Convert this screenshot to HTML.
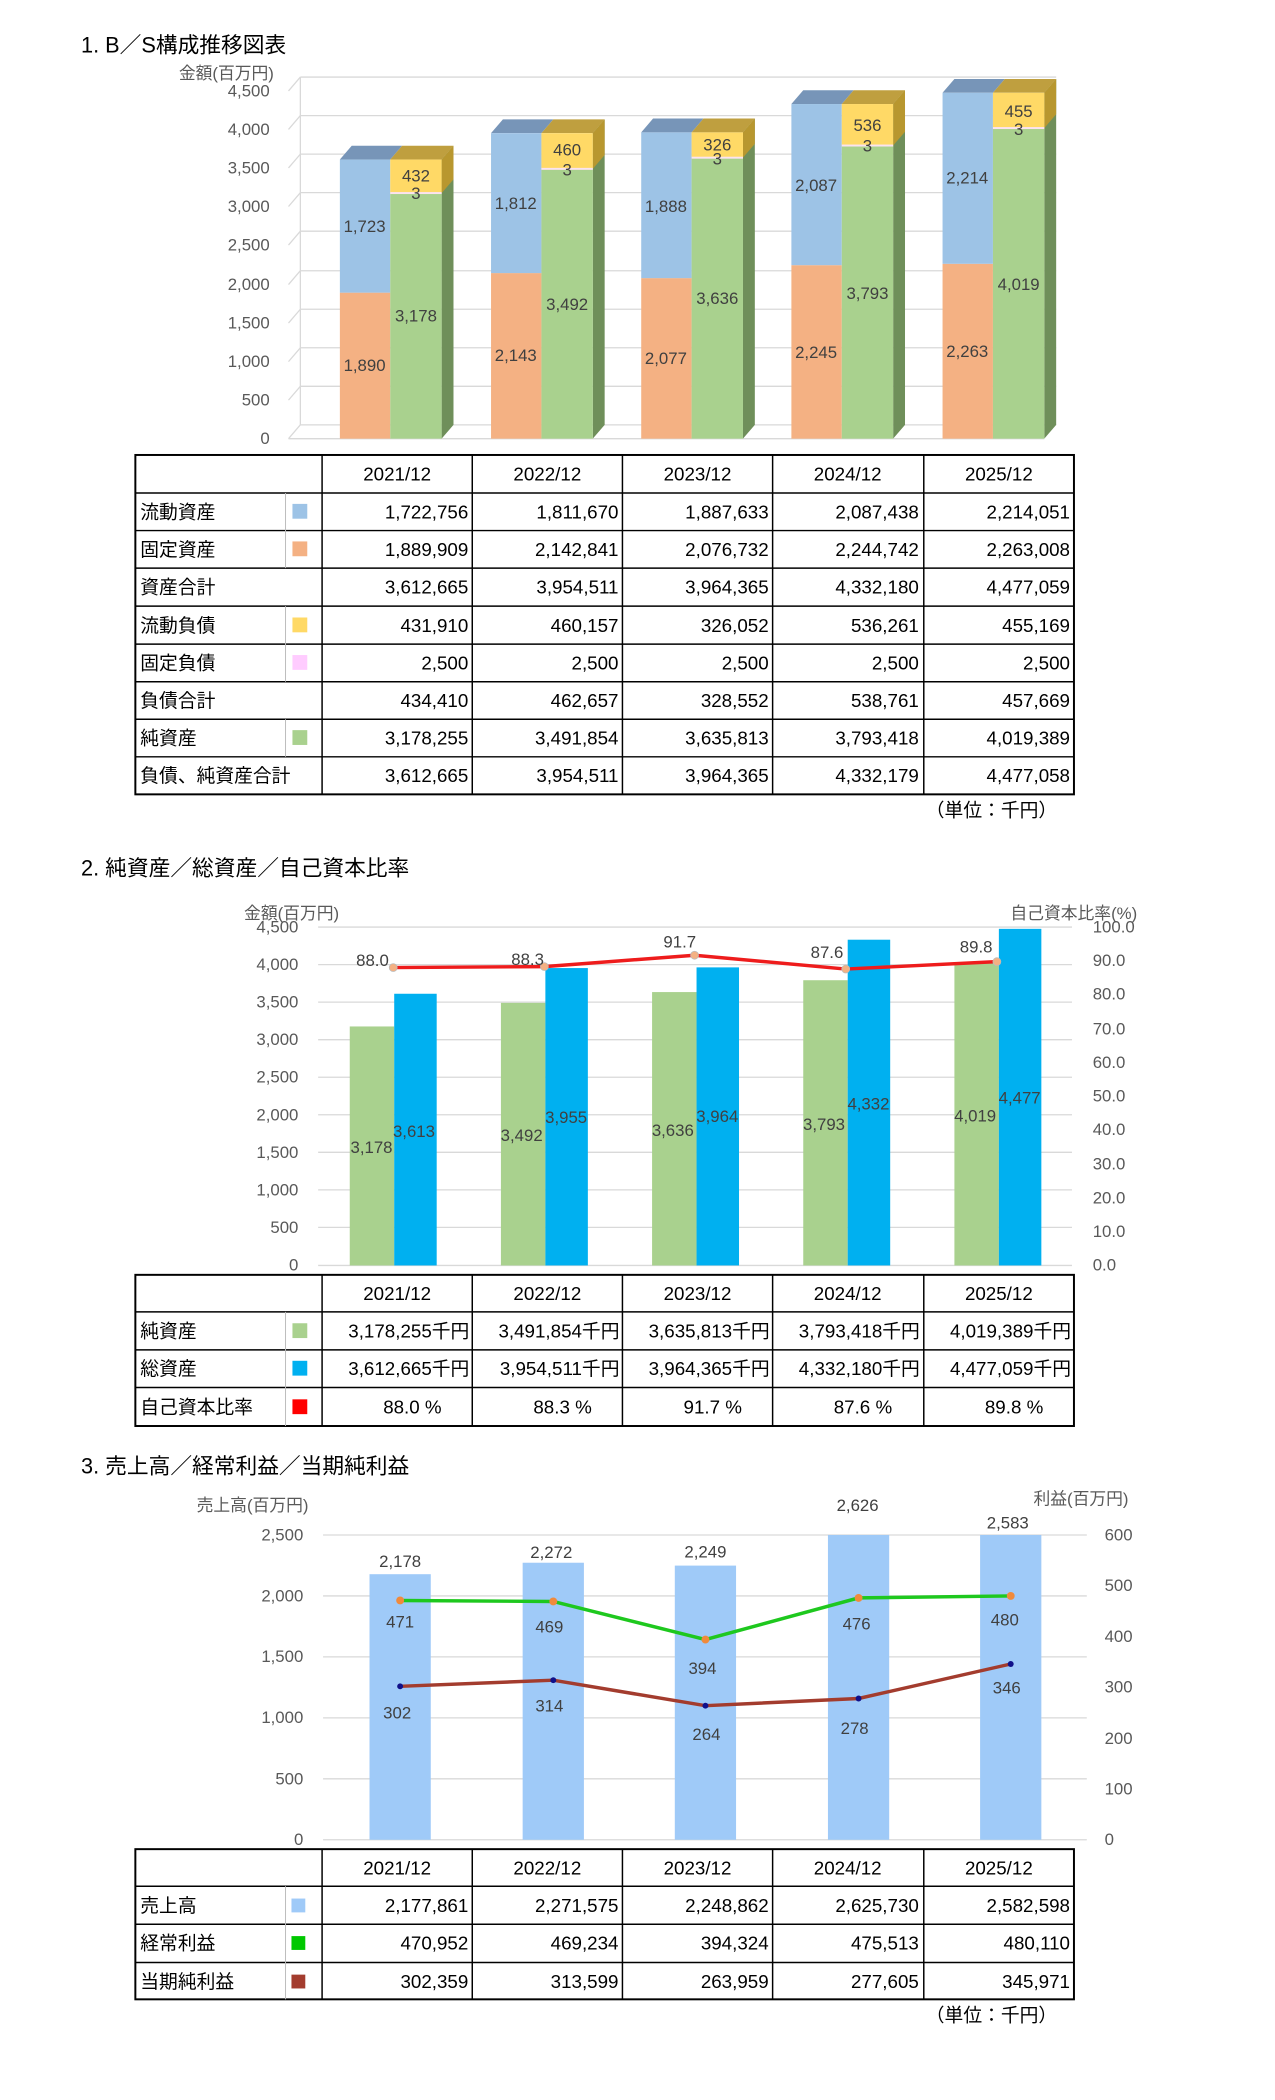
<!DOCTYPE html>
<html><head><meta charset="utf-8"><style>
html,body{margin:0;padding:0;background:#fff}
svg{display:block}
text{font-family:"Liberation Sans","Noto Sans CJK JP",sans-serif}
.ax{font-size:17px;fill:#595959}
.lb{font-size:17px;fill:#404040}
.tt{font-size:22px;fill:#000}
.tb{font-size:19px;fill:#000}
.gr{stroke:#d9d9d9;stroke-width:1.3}
</style></head><body>
<svg width="1275" height="2100" viewBox="0 0 1275 2100" xmlns="http://www.w3.org/2000/svg">
<!-- ===== Chart 1 ===== -->
<g transform="scale(0.988)">
<text class="tt" x="82" y="53">1. B／S構成推移図表</text>
<text class="ax" x="181" y="80">金額(百万円)</text>
<g class="gr">
<line x1="304" y1="78" x2="1069" y2="78"/><line x1="304" y1="117" x2="1069" y2="117"/><line x1="304" y1="156" x2="1069" y2="156"/><line x1="304" y1="195" x2="1069" y2="195"/><line x1="304" y1="234" x2="1069" y2="234"/><line x1="304" y1="274" x2="1069" y2="274"/><line x1="304" y1="313" x2="1069" y2="313"/><line x1="304" y1="352" x2="1069" y2="352"/><line x1="304" y1="391" x2="1069" y2="391"/><line x1="304" y1="430" x2="1069" y2="430"/>
<line x1="292" y1="92" x2="304" y2="78"/><line x1="292" y1="131" x2="304" y2="117"/><line x1="292" y1="170" x2="304" y2="156"/><line x1="292" y1="209" x2="304" y2="195"/><line x1="292" y1="248" x2="304" y2="234"/><line x1="292" y1="288" x2="304" y2="274"/><line x1="292" y1="327" x2="304" y2="313"/><line x1="292" y1="366" x2="304" y2="352"/><line x1="292" y1="405" x2="304" y2="391"/><line x1="292" y1="444" x2="304" y2="430"/>
<line x1="304" y1="78" x2="304" y2="430"/><line x1="292" y1="444" x2="1057" y2="444"/>
</g>
<g class="ax" text-anchor="end" dominant-baseline="central">
<text x="273" y="92">4,500</text><text x="273" y="131">4,000</text><text x="273" y="170">3,500</text><text x="273" y="209">3,000</text><text x="273" y="248">2,500</text><text x="273" y="288">2,000</text><text x="273" y="327">1,500</text><text x="273" y="366">1,000</text><text x="273" y="405">500</text><text x="273" y="444">0</text>
</g>
<g>
<polygon points="447,161.5 459,147.5 459,430 447,444" fill="#6f8f5a"/>
<polygon points="447,161.5 459,147.5 459,181.5 447,195.5" fill="#b8972f"/>
<polygon points="344,161.5 356,147.5 407,147.5 395,161.5" fill="#7795b8"/>
<polygon points="395,161.5 407,147.5 459,147.5 447,161.5" fill="#bf9f3f"/>
<rect x="344" y="296.2" width="51" height="147.8" fill="#f4b183"/>
<rect x="344" y="161.5" width="51" height="134.7" fill="#9dc3e6"/>
<rect x="395" y="195.4" width="52" height="248.6" fill="#a9d18e"/>
<rect x="395" y="161.5" width="52" height="33.9" fill="#ffd966"/>
<rect x="395" y="194.4" width="52" height="2" fill="#fbe3f0"/>
<polygon points="600,134.8 612,120.8 612,430 600,444" fill="#6f8f5a"/>
<polygon points="600,134.8 612,120.8 612,156.9 600,170.9" fill="#b8972f"/>
<polygon points="497,134.8 509,120.8 560,120.8 548,134.8" fill="#7795b8"/>
<polygon points="548,134.8 560,120.8 612,120.8 600,134.8" fill="#bf9f3f"/>
<rect x="497" y="276.4" width="51" height="167.6" fill="#f4b183"/>
<rect x="497" y="134.8" width="51" height="141.6" fill="#9dc3e6"/>
<rect x="548" y="170.9" width="52" height="273.1" fill="#a9d18e"/>
<rect x="548" y="134.8" width="52" height="36.1" fill="#ffd966"/>
<rect x="548" y="169.9" width="52" height="2" fill="#fbe3f0"/>
<polygon points="752,134 764,120 764,430 752,444" fill="#6f8f5a"/>
<polygon points="752,134 764,120 764,145.6 752,159.6" fill="#b8972f"/>
<polygon points="649,134 661,120 712,120 700,134" fill="#7795b8"/>
<polygon points="700,134 712,120 764,120 752,134" fill="#bf9f3f"/>
<rect x="649" y="281.5" width="51" height="162.5" fill="#f4b183"/>
<rect x="649" y="134" width="51" height="147.5" fill="#9dc3e6"/>
<rect x="700" y="159.6" width="52" height="284.4" fill="#a9d18e"/>
<rect x="700" y="134" width="52" height="25.6" fill="#ffd966"/>
<rect x="700" y="158.6" width="52" height="2" fill="#fbe3f0"/>
<polygon points="904,105.3 916,91.3 916,430 904,444" fill="#6f8f5a"/>
<polygon points="904,105.3 916,91.3 916,133.3 904,147.3" fill="#b8972f"/>
<polygon points="801,105.3 813,91.3 864,91.3 852,105.3" fill="#7795b8"/>
<polygon points="852,105.3 864,91.3 916,91.3 904,105.3" fill="#bf9f3f"/>
<rect x="801" y="268.4" width="51" height="175.6" fill="#f4b183"/>
<rect x="801" y="105.3" width="51" height="163.1" fill="#9dc3e6"/>
<rect x="852" y="147.3" width="52" height="296.7" fill="#a9d18e"/>
<rect x="852" y="105.3" width="52" height="42" fill="#ffd966"/>
<rect x="852" y="146.3" width="52" height="2" fill="#fbe3f0"/>
<polygon points="1057,93.9 1069,79.9 1069,430 1057,444" fill="#6f8f5a"/>
<polygon points="1057,93.9 1069,79.9 1069,115.6 1057,129.6" fill="#b8972f"/>
<polygon points="954,93.9 966,79.9 1017,79.9 1005,93.9" fill="#7795b8"/>
<polygon points="1005,93.9 1017,79.9 1069,79.9 1057,93.9" fill="#bf9f3f"/>
<rect x="954" y="267" width="51" height="177" fill="#f4b183"/>
<rect x="954" y="93.9" width="51" height="173.1" fill="#9dc3e6"/>
<rect x="1005" y="129.6" width="52" height="314.4" fill="#a9d18e"/>
<rect x="1005" y="93.9" width="52" height="35.7" fill="#ffd966"/>
<rect x="1005" y="128.6" width="52" height="2" fill="#fbe3f0"/>
</g>
<g class="lb" text-anchor="middle" dominant-baseline="central">
<text x="369" y="370">1,890</text><text x="369" y="229">1,723</text><text x="421" y="320">3,178</text><text x="421" y="178">432</text><text x="421" y="196">3</text>
<text x="522" y="360">2,143</text><text x="522" y="206">1,812</text><text x="574" y="308">3,492</text><text x="574" y="152">460</text><text x="574" y="172">3</text>
<text x="674" y="363">2,077</text><text x="674" y="209">1,888</text><text x="726" y="302">3,636</text><text x="726" y="147">326</text><text x="726" y="161">3</text>
<text x="826" y="357">2,245</text><text x="826" y="188">2,087</text><text x="878" y="297">3,793</text><text x="878" y="127">536</text><text x="878" y="148">3</text>
<text x="979" y="356">2,263</text><text x="979" y="180">2,214</text><text x="1031" y="288">4,019</text><text x="1031" y="113">455</text><text x="1031" y="131">3</text>
</g>
<g stroke="#000" stroke-width="1.5" fill="none">
<rect x="137" y="460.5" width="950" height="343.5" stroke-width="2"/>
<line x1="137" y1="499" x2="1087" y2="499"/><line x1="137" y1="537" x2="1087" y2="537"/><line x1="137" y1="575" x2="1087" y2="575"/><line x1="137" y1="613.5" x2="1087" y2="613.5"/><line x1="137" y1="652" x2="1087" y2="652"/><line x1="137" y1="690" x2="1087" y2="690"/><line x1="137" y1="728" x2="1087" y2="728"/><line x1="137" y1="766" x2="1087" y2="766"/>
<line x1="326" y1="460.5" x2="326" y2="804"/><line x1="478" y1="460.5" x2="478" y2="804"/><line x1="630" y1="460.5" x2="630" y2="804"/><line x1="782" y1="460.5" x2="782" y2="804"/><line x1="935" y1="460.5" x2="935" y2="804"/>
</g>
<g stroke="#bbb" stroke-width="1"><line x1="289" y1="499" x2="289" y2="575"/><line x1="289" y1="613.5" x2="289" y2="690"/><line x1="289" y1="728" x2="289" y2="766"/></g>
<rect x="296" y="510" width="15" height="15" fill="#9dc3e6"/><rect x="296" y="548" width="15" height="15" fill="#f4b183"/><rect x="296" y="625" width="15" height="15" fill="#ffd966"/><rect x="296" y="663" width="15" height="15" fill="#ffccff"/><rect x="296" y="739" width="15" height="15" fill="#a9d18e"/>
<g class="tb" dominant-baseline="central">
<g text-anchor="middle"><text x="402" y="480">2021/12</text><text x="554" y="480">2022/12</text><text x="706" y="480">2023/12</text><text x="858" y="480">2024/12</text><text x="1011" y="480">2025/12</text></g>
<text x="142" y="518">流動資産</text><text x="142" y="556">固定資産</text><text x="142" y="594">資産合計</text><text x="142" y="633">流動負債</text><text x="142" y="671">固定負債</text><text x="142" y="709">負債合計</text><text x="142" y="747">純資産</text><text x="142" y="785">負債、純資産合計</text>
<g text-anchor="end">
<text x="474" y="518">1,722,756</text><text x="626" y="518">1,811,670</text><text x="778" y="518">1,887,633</text><text x="930" y="518">2,087,438</text><text x="1083" y="518">2,214,051</text>
<text x="474" y="556">1,889,909</text><text x="626" y="556">2,142,841</text><text x="778" y="556">2,076,732</text><text x="930" y="556">2,244,742</text><text x="1083" y="556">2,263,008</text>
<text x="474" y="594">3,612,665</text><text x="626" y="594">3,954,511</text><text x="778" y="594">3,964,365</text><text x="930" y="594">4,332,180</text><text x="1083" y="594">4,477,059</text>
<text x="474" y="633">431,910</text><text x="626" y="633">460,157</text><text x="778" y="633">326,052</text><text x="930" y="633">536,261</text><text x="1083" y="633">455,169</text>
<text x="474" y="671">2,500</text><text x="626" y="671">2,500</text><text x="778" y="671">2,500</text><text x="930" y="671">2,500</text><text x="1083" y="671">2,500</text>
<text x="474" y="709">434,410</text><text x="626" y="709">462,657</text><text x="778" y="709">328,552</text><text x="930" y="709">538,761</text><text x="1083" y="709">457,669</text>
<text x="474" y="747">3,178,255</text><text x="626" y="747">3,491,854</text><text x="778" y="747">3,635,813</text><text x="930" y="747">3,793,418</text><text x="1083" y="747">4,019,389</text>
<text x="474" y="785">3,612,665</text><text x="626" y="785">3,954,511</text><text x="778" y="785">3,964,365</text><text x="930" y="785">4,332,179</text><text x="1083" y="785">4,477,058</text>
<text x="1070" y="820">（単位：千円）</text>
</g></g>
</g>

<!-- ===== Chart 2 ===== -->
<g transform="translate(0,10.2) scale(0.988)">
<text class="tt" x="82" y="876">2. 純資産／総資産／自己資本比率</text>
<text class="ax" x="247" y="920">金額(百万円)</text>
<text class="ax" x="1151" y="920" text-anchor="end">自己資本比率(%)</text>
<g class="gr">
<line x1="322" y1="928" x2="1085" y2="928"/><line x1="322" y1="966" x2="1085" y2="966"/><line x1="322" y1="1004" x2="1085" y2="1004"/><line x1="322" y1="1042" x2="1085" y2="1042"/><line x1="322" y1="1080" x2="1085" y2="1080"/><line x1="322" y1="1118" x2="1085" y2="1118"/><line x1="322" y1="1156" x2="1085" y2="1156"/><line x1="322" y1="1194" x2="1085" y2="1194"/><line x1="322" y1="1232" x2="1085" y2="1232"/><line x1="322" y1="1270.5" x2="1085" y2="1270.5"/>
</g>
<g class="ax" text-anchor="end" dominant-baseline="central">
<text x="302" y="928">4,500</text><text x="302" y="966">4,000</text><text x="302" y="1004">3,500</text><text x="302" y="1042">3,000</text><text x="302" y="1080">2,500</text><text x="302" y="1118">2,000</text><text x="302" y="1156">1,500</text><text x="302" y="1194">1,000</text><text x="302" y="1232">500</text><text x="302" y="1270">0</text>
</g>
<g class="ax" dominant-baseline="central">
<text x="1106" y="928">100.0</text><text x="1106" y="962">90.0</text><text x="1106" y="996">80.0</text><text x="1106" y="1031">70.0</text><text x="1106" y="1065">60.0</text><text x="1106" y="1099">50.0</text><text x="1106" y="1133">40.0</text><text x="1106" y="1168">30.0</text><text x="1106" y="1202">20.0</text><text x="1106" y="1236">10.0</text><text x="1106" y="1270">0.0</text>
</g>
<g fill="#a9d18e">
<rect x="354" y="1028.6" width="45" height="241.9"/><rect x="507" y="1004.7" width="45" height="265.8"/><rect x="660" y="993.8" width="45" height="276.7"/><rect x="813" y="981.8" width="45" height="288.7"/><rect x="966" y="964.6" width="45" height="305.9"/>
</g>
<g fill="#00b0f0">
<rect x="399" y="995.5" width="43" height="275"/><rect x="552" y="969.5" width="43" height="301"/><rect x="705" y="968.8" width="43" height="301.7"/><rect x="858" y="940.8" width="43" height="329.7"/><rect x="1011" y="929.8" width="43" height="340.7"/>
</g>
<polyline points="398,969 551,968 703,956.5 856,970.5 1009,963" fill="none" stroke="#ee1c1c" stroke-width="3.5"/>
<g fill="#f4b183" stroke="#bbb" stroke-width="0.8"><circle cx="398" cy="969" r="4"/><circle cx="551" cy="968" r="4"/><circle cx="703" cy="956.5" r="4"/><circle cx="856" cy="970.5" r="4"/><circle cx="1009" cy="963" r="4"/></g>
<g class="lb" text-anchor="middle" dominant-baseline="central">
<text x="377" y="962">88.0</text><text x="534" y="961">88.3</text><text x="688" y="943">91.7</text><text x="837" y="954">87.6</text><text x="988" y="948">89.8</text>
<text x="376" y="1151">3,178</text><text x="419" y="1135">3,613</text>
<text x="528" y="1139">3,492</text><text x="573" y="1121">3,955</text>
<text x="681" y="1134">3,636</text><text x="726" y="1120">3,964</text>
<text x="834" y="1128">3,793</text><text x="879" y="1107">4,332</text>
<text x="987" y="1119">4,019</text><text x="1032" y="1101">4,477</text>
</g>
<g stroke="#000" stroke-width="1.5" fill="none">
<rect x="137" y="1280" width="950" height="153" stroke-width="2"/>
<line x1="137" y1="1317.5" x2="1087" y2="1317.5"/><line x1="137" y1="1356" x2="1087" y2="1356"/><line x1="137" y1="1394" x2="1087" y2="1394"/>
<line x1="326" y1="1280" x2="326" y2="1433"/><line x1="478" y1="1280" x2="478" y2="1433"/><line x1="630" y1="1280" x2="630" y2="1433"/><line x1="782" y1="1280" x2="782" y2="1433"/><line x1="935" y1="1280" x2="935" y2="1433"/>
</g>
<line x1="289" y1="1317.5" x2="289" y2="1433" stroke="#bbb"/>
<rect x="296" y="1329" width="15" height="15" fill="#a9d18e"/><rect x="296" y="1367" width="15" height="15" fill="#00b0f0"/><rect x="296" y="1406" width="15" height="15" fill="#ff0000"/>
<g class="tb" dominant-baseline="central">
<g text-anchor="middle"><text x="402" y="1299">2021/12</text><text x="554" y="1299">2022/12</text><text x="706" y="1299">2023/12</text><text x="858" y="1299">2024/12</text><text x="1011" y="1299">2025/12</text></g>
<text x="142" y="1337">純資産</text><text x="142" y="1375">総資産</text><text x="142" y="1414">自己資本比率</text>
<g text-anchor="end">
<text x="475" y="1337">3,178,255千円</text><text x="627" y="1337">3,491,854千円</text><text x="779" y="1337">3,635,813千円</text><text x="931" y="1337">3,793,418千円</text><text x="1084" y="1337">4,019,389千円</text>
<text x="475" y="1375">3,612,665千円</text><text x="627" y="1375">3,954,511千円</text><text x="779" y="1375">3,964,365千円</text><text x="931" y="1375">4,332,180千円</text><text x="1084" y="1375">4,477,059千円</text>
<text x="447" y="1414">88.0 %</text><text x="599" y="1414">88.3 %</text><text x="751" y="1414">91.7 %</text><text x="903" y="1414">87.6 %</text><text x="1056" y="1414">89.8 %</text>
</g></g>
</g>

<!-- ===== Chart 3 ===== -->
<g transform="translate(0,17.4) scale(0.988)">
<text class="tt" x="82" y="1474">3. 売上高／経常利益／当期純利益</text>
<text class="ax" x="199" y="1512">売上高(百万円)</text>
<text class="ax" x="1046" y="1505">利益(百万円)</text>
<g class="gr">
<line x1="327" y1="1536" x2="1100" y2="1536"/><line x1="327" y1="1597.7" x2="1100" y2="1597.7"/><line x1="327" y1="1659.4" x2="1100" y2="1659.4"/><line x1="327" y1="1721.1" x2="1100" y2="1721.1"/><line x1="327" y1="1782.8" x2="1100" y2="1782.8"/><line x1="327" y1="1844.5" x2="1100" y2="1844.5"/>
</g>
<g class="ax" text-anchor="end" dominant-baseline="central">
<text x="307" y="1536">2,500</text><text x="307" y="1598">2,000</text><text x="307" y="1659">1,500</text><text x="307" y="1721">1,000</text><text x="307" y="1783">500</text><text x="307" y="1844">0</text>
</g>
<g class="ax" dominant-baseline="central">
<text x="1118" y="1536">600</text><text x="1118" y="1587">500</text><text x="1118" y="1639">400</text><text x="1118" y="1690">300</text><text x="1118" y="1742">200</text><text x="1118" y="1793">100</text><text x="1118" y="1844">0</text>
</g>
<g fill="#9fcaf8">
<rect x="374" y="1575.7" width="62" height="268.8"/><rect x="529" y="1564.1" width="62" height="280.4"/><rect x="683" y="1567" width="62" height="277.5"/><rect x="838" y="1536" width="62" height="308.5"/><rect x="992" y="1536" width="62" height="308.5"/>
</g>
<polyline points="405,1602.3 560,1603.3 714,1641.9 869,1599.7 1023,1597.7" fill="none" stroke="#1ec81e" stroke-width="3.5"/>
<polyline points="405,1689.2 560,1683 714,1708.8 869,1701.5 1023,1666.6" fill="none" stroke="#a33c2e" stroke-width="3.5"/>
<g fill="#f08a3c"><circle cx="405" cy="1602.3" r="4"/><circle cx="560" cy="1603.3" r="4"/><circle cx="714" cy="1641.9" r="4"/><circle cx="869" cy="1599.7" r="4"/><circle cx="1023" cy="1597.7" r="4"/></g>
<g fill="#10108a"><circle cx="405" cy="1689.2" r="3"/><circle cx="560" cy="1683" r="3"/><circle cx="714" cy="1708.8" r="3"/><circle cx="869" cy="1701.5" r="3"/><circle cx="1023" cy="1666.6" r="3"/></g>
<g class="lb" text-anchor="middle" dominant-baseline="central">
<text x="405" y="1563">2,178</text><text x="558" y="1554">2,272</text><text x="714" y="1553">2,249</text><text x="868" y="1506">2,626</text><text x="1020" y="1524">2,583</text>
<text x="405" y="1624">471</text><text x="556" y="1629">469</text><text x="711" y="1671">394</text><text x="867" y="1626">476</text><text x="1017" y="1622">480</text>
<text x="402" y="1716">302</text><text x="556" y="1709">314</text><text x="715" y="1738">264</text><text x="865" y="1732">278</text><text x="1019" y="1691">346</text>
</g>
<g stroke="#000" stroke-width="1.5" fill="none">
<rect x="137" y="1854" width="950" height="152" stroke-width="2"/>
<line x1="137" y1="1891.5" x2="1087" y2="1891.5"/><line x1="137" y1="1930" x2="1087" y2="1930"/><line x1="137" y1="1968.7" x2="1087" y2="1968.7"/>
<line x1="326" y1="1854" x2="326" y2="2006"/><line x1="478" y1="1854" x2="478" y2="2006"/><line x1="630" y1="1854" x2="630" y2="2006"/><line x1="782" y1="1854" x2="782" y2="2006"/><line x1="935" y1="1854" x2="935" y2="2006"/>
</g>
<line x1="289" y1="1891.5" x2="289" y2="2006" stroke="#bbb"/>
<rect x="295" y="1904" width="14" height="14" fill="#9fcaf8"/><rect x="295" y="1942" width="14" height="14" fill="#00c800"/><rect x="295" y="1981" width="14" height="14" fill="#a33c2e"/>
<g class="tb" dominant-baseline="central">
<g text-anchor="middle"><text x="402" y="1873">2021/12</text><text x="554" y="1873">2022/12</text><text x="706" y="1873">2023/12</text><text x="858" y="1873">2024/12</text><text x="1011" y="1873">2025/12</text></g>
<text x="142" y="1911">売上高</text><text x="142" y="1949">経常利益</text><text x="142" y="1988">当期純利益</text>
<g text-anchor="end">
<text x="474" y="1911">2,177,861</text><text x="626" y="1911">2,271,575</text><text x="778" y="1911">2,248,862</text><text x="930" y="1911">2,625,730</text><text x="1083" y="1911">2,582,598</text>
<text x="474" y="1949">470,952</text><text x="626" y="1949">469,234</text><text x="778" y="1949">394,324</text><text x="930" y="1949">475,513</text><text x="1083" y="1949">480,110</text>
<text x="474" y="1988">302,359</text><text x="626" y="1988">313,599</text><text x="778" y="1988">263,959</text><text x="930" y="1988">277,605</text><text x="1083" y="1988">345,971</text>
<text x="1070" y="2022">（単位：千円）</text>
</g></g>
</g>
</svg>
</body></html>
